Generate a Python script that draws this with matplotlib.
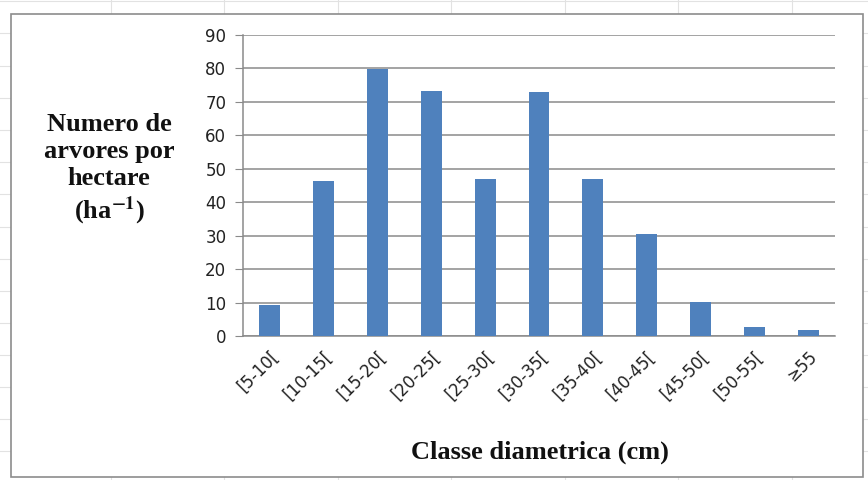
import matplotlib
matplotlib.use("Agg")
import matplotlib.pyplot as plt
from matplotlib.patches import Rectangle
from matplotlib.lines import Line2D
import numpy as np

plt.rcParams["mathtext.fontset"] = "stix"

categories = ["[5-10[", "[10-15[", "[15-20[", "[20-25[", "[25-30[", "[30-35[",
              "[35-40[", "[40-45[", "[45-50[", "[50-55[", "≥55"]
values = [9.2, 46.3, 79.8, 73.3, 46.8, 72.9, 46.9, 30.6, 10.3, 2.8, 1.8]
yticks = [0, 10, 20, 30, 40, 50, 60, 70, 80, 90]

W, H = 868, 480
fig = plt.figure(figsize=(W / 100, H / 100), dpi=100)
fig.patch.set_facecolor("white")

# faint spreadsheet grid behind the chart
for xc in [111, 224, 338, 451, 565, 678, 792]:
    fig.add_artist(Line2D([xc / W, xc / W], [0, 1], color="#e2e2e2", lw=0.8, zorder=0))
for yr in [1, 33, 66, 98, 130, 162, 194, 227, 259, 291, 323, 355, 387, 419, 451]:
    fig.add_artist(Line2D([0, 1], [1 - yr / H, 1 - yr / H], color="#e2e2e2", lw=0.8, zorder=0))

# chart area frame
fig.add_artist(Rectangle((11 / W, 1 - 477 / H), (863 - 11) / W, (477 - 14) / H,
                         facecolor="white", edgecolor="#8c8c8c", lw=1.2, zorder=1))

ax = fig.add_axes([243 / W, 1 - 336 / H, (835 - 243) / W, (336 - 35) / H])
ax.set_zorder(2)
ax.patch.set_alpha(0)

x = np.arange(len(categories))
ax.bar(x, values, width=0.39, color="#4F81BD", zorder=3)
ax.set_xlim(-0.5, len(categories) - 0.5)
ax.set_ylim(0, 90)
ax.set_yticks(yticks)
ax.yaxis.grid(True, color="#8a8a8a", lw=1.1, zorder=0)
ax.set_axisbelow(True)

for s in ["top", "right"]:
    ax.spines[s].set_visible(False)
ax.spines["left"].set_color("#8a8a8a")
ax.spines["bottom"].set_color("#8a8a8a")
ax.spines["left"].set_linewidth(1.1)
ax.spines["bottom"].set_linewidth(1.1)

ax.tick_params(axis="y", length=6, color="#8a8a8a", labelsize=12, pad=6, labelcolor="#222222")
ax.tick_params(axis="x", length=0, labelsize=12, pad=8, labelcolor="#222222")
for lab in ax.get_yticklabels():
    lab.set_family("DejaVu Sans")
ax.set_xticks(x)
ax.set_xticklabels(categories, rotation=45, ha="right", rotation_mode="anchor",
                   family="DejaVu Sans")

fig.text(540 / W, 1 - 452 / H, "Classe diametrica (cm)", ha="center", va="center",
         family="Liberation Serif", fontweight="bold", fontsize=19, color="#111111")
fig.text(109 / W, 1 - 170 / H, "Numero de\narvores por\nhectare\n(ha$^{\\mathbf{-1}}$)",
         ha="center", va="center", family="Liberation Serif", fontweight="bold",
         fontsize=19, linespacing=1.22, color="#111111")

fig.savefig("out.png", dpi=100, facecolor="white")
